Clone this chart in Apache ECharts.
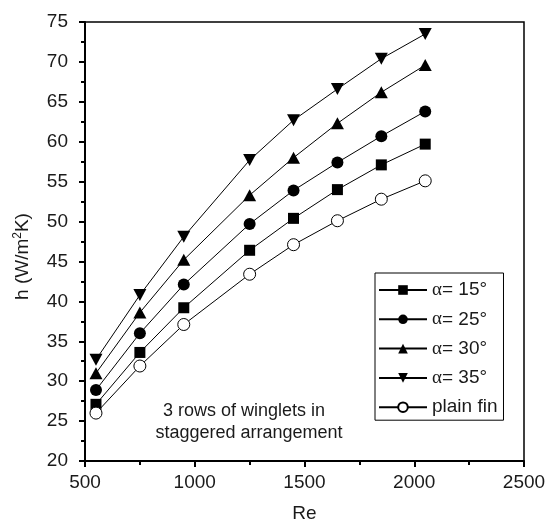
<!DOCTYPE html>
<html>
<head>
<meta charset="utf-8">
<script src="https://cdn.jsdelivr.net/npm/echarts@6/dist/echarts.min.js"></script>
<style>
  html, body { margin: 0; padding: 0; background: #fff; }
  #chart { width: 549px; height: 523px; }
</style>
</head>
<body>
<div id="chart"></div>
<script>
// Reynolds numbers at which h was measured
const reValues = [550, 750, 950, 1250, 1450, 1650, 1850, 2050];

// Heat transfer coefficient h (W/m²K) for each winglet angle
const hAlpha15 = [27.1, 33.6, 39.2, 46.4, 50.4, 54.0, 57.1, 59.7];
const hAlpha25 = [28.9, 36.0, 42.1, 49.7, 53.9, 57.4, 60.7, 63.8];
const hAlpha30 = [31.0, 38.6, 45.2, 53.3, 58.0, 62.3, 66.2, 69.6];
const hAlpha35 = [32.7, 40.8, 48.1, 57.7, 62.7, 66.6, 70.4, 73.5];
const hPlainFin = [26.0, 31.9, 37.1, 43.4, 47.1, 50.1, 52.8, 55.1];

const seriesNames = ['α= 15°', 'α= 25°', 'α= 30°', 'α= 35°', 'plain fin'];
const xTicks = [500, 1000, 1500, 2000, 2500];
const yTicks = [20, 25, 30, 35, 40, 45, 50, 55, 60, 65, 70, 75];

const FONT = 'Liberation Sans, Arial, sans-serif';
const TEXT = '#1a1a1a';
const downTriangle = 'path://M0,0 L10,0 L5,9 Z';
const upTriangle = 'path://M5,0 L10,9 L0,9 Z';

function pairs(ys) {
  return reValues.map((x, i) => [x, ys[i]]);
}

function lineSeries(name, ys, symbol, size, filled) {
  return {
    name: name,
    type: 'line',
    data: pairs(ys),
    symbol: symbol,
    symbolSize: size,
    showAllSymbol: true,
    lineStyle: { color: '#000', width: 1 },
    itemStyle: filled
      ? { color: '#000', borderColor: '#000', borderWidth: 0 }
      : { color: '#fff', borderColor: '#000', borderWidth: 1 },
    emphasis: { disabled: true },
    animation: false,
    z: 3
  };
}

const chart = echarts.init(document.getElementById('chart'), null, { renderer: 'canvas' });

const axisCommon = {
  axisLine: { show: true, lineStyle: { color: '#000', width: 2 } },
  axisTick: { show: true, inside: false, length: 6, lineStyle: { color: '#000', width: 2 } },
  minorTick: { show: true, splitNumber: 2, length: 4, lineStyle: { color: '#000', width: 2 } },
  splitLine: { show: false }
};

chart.setOption({
  backgroundColor: '#fff',
  animation: false,
  grid: {
    left: 85, right: 25, top: 22, bottom: 62,
    outerBoundsMode: 'none',
    containLabel: false,
    show: true, borderColor: '#000', borderWidth: 1.5, backgroundColor: 'transparent'
  },
  xAxis: Object.assign({}, axisCommon, {
    type: 'value',
    min: xTicks[0],
    max: xTicks[xTicks.length - 1],
    interval: 500,
    name: 'Re',
    nameLocation: 'middle',
    nameGap: 43,
    nameTextStyle: { color: TEXT, fontSize: 19, fontFamily: FONT },
    axisLabel: {
      color: TEXT, fontSize: 19, fontFamily: FONT, margin: 12,
      formatter: v => String(v)
    }
  }),
  yAxis: Object.assign({}, axisCommon, {
    type: 'value',
    min: yTicks[0],
    max: yTicks[yTicks.length - 1],
    interval: 5,
    name: 'h (W/m{sup|2}K)',
    nameLocation: 'middle',
    nameGap: 52,
    nameRotate: 90,
    nameTextStyle: {
      color: TEXT, fontSize: 19, fontFamily: FONT,
      padding: [0, 30, 0, 0],
      rich: { sup: { fontSize: 12, verticalAlign: 'top', padding: [0, 0, 9, 0], fontFamily: FONT, color: TEXT } }
    },
    axisLabel: { color: TEXT, fontSize: 19, fontFamily: FONT, margin: 17 }
  }),
  legend: {
    orient: 'vertical',
    left: 375,
    top: 273,
    padding: [7, 6, 3, 3],
    itemGap: 9.3,
    itemWidth: 48,
    itemHeight: 12,
    borderColor: '#000',
    borderWidth: 1,
    backgroundColor: '#fff',
    data: seriesNames,
    formatter: name => name.startsWith('α') ? '{a|α}' + name.slice(1) : name,
    textStyle: {
      color: TEXT, fontSize: 19, fontFamily: FONT, lineHeight: 20,
      rich: { a: { fontFamily: 'Liberation Serif, Times New Roman, serif', fontSize: 19, color: TEXT, lineHeight: 20 } }
    },
    selectedMode: false
  },
  graphic: [
    {
      type: 'text',
      x: 244,
      y: 411,
      style: {
        text: '3 rows of winglets in',
        fill: TEXT,
        font: '18px ' + FONT,
        align: 'center',
        verticalAlign: 'middle'
      }
    },
    {
      type: 'text',
      x: 249,
      y: 433,
      style: {
        text: 'staggered arrangement',
        fill: TEXT,
        font: '18px ' + FONT,
        align: 'center',
        verticalAlign: 'middle'
      }
    }
  ],
  series: [
    lineSeries(seriesNames[0], hAlpha15, 'rect', 11, true),
    lineSeries(seriesNames[1], hAlpha25, 'circle', 12, true),
    lineSeries(seriesNames[2], hAlpha30, upTriangle, [13, 12], true),
    lineSeries(seriesNames[3], hAlpha35, downTriangle, [13, 12], true),
    lineSeries(seriesNames[4], hPlainFin, 'circle', 12, false)
  ]
});
</script>
</body>
</html>
